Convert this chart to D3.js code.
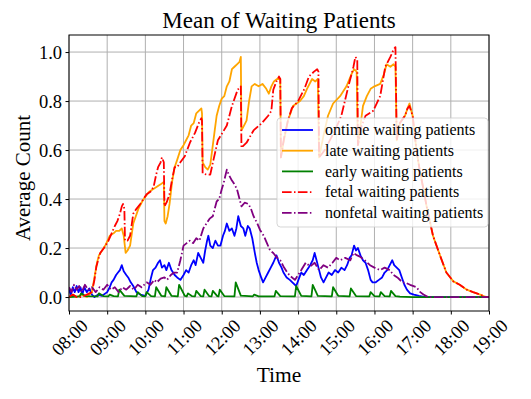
<!DOCTYPE html>
<html>
<head>
<meta charset="utf-8">
<script src="https://cdn.jsdelivr.net/npm/d3@7"></script>
<style>
body { margin: 0; background: #fff; }
text { font-family: "Liberation Serif", serif; fill: #000; }
</style>
</head>
<body>
<svg id="chart" width="531" height="399"></svg>
<script>
// mean waiting counts, [time, value]
var ontime = [["08:00",0.03],["08:03",0.01],["08:06",0.04],["08:09",0.02],["08:12",0.045],["08:15",0.02],["08:18",0.04],["08:21",0.01],["08:24",0.04],["08:28",0.02],["08:32",0.035],["08:36",0.01],["08:40",0.0],["08:46",0.01],["08:52",0.005],["09:00",0.02],["09:04",0.04],["09:07",0.06],["09:10",0.07],["09:14",0.09],["09:17",0.10],["09:20",0.11],["09:23",0.13],["09:26",0.105],["09:30",0.09],["09:33",0.08],["09:37",0.06],["09:41",0.045],["09:46",0.02],["09:52",0.01],["10:00",0.005],["10:05",0.03],["10:09",0.08],["10:12",0.11],["10:16",0.12],["10:20",0.14],["10:23",0.15],["10:26",0.12],["10:30",0.13],["10:33",0.11],["10:37",0.14],["10:41",0.11],["10:46",0.09],["10:50",0.08],["10:55",0.07],["11:00",0.09],["11:04",0.11],["11:08",0.10],["11:12",0.13],["11:16",0.15],["11:19",0.13],["11:23",0.18],["11:27",0.16],["11:31",0.14],["11:34",0.19],["11:37",0.23],["11:39",0.25],["11:42",0.21],["11:46",0.20],["11:50",0.23],["11:54",0.21],["11:58",0.21],["12:02",0.25],["12:05",0.27],["12:08",0.30],["12:12",0.27],["12:16",0.28],["12:20",0.25],["12:23",0.28],["12:26",0.33],["12:30",0.29],["12:34",0.28],["12:37",0.25],["12:41",0.29],["12:44",0.28],["12:48",0.24],["12:52",0.18],["12:55",0.14],["12:58",0.11],["13:02",0.08],["13:05",0.06],["13:09",0.08],["13:13",0.10],["13:17",0.12],["13:21",0.14],["13:26",0.17],["13:30",0.14],["13:34",0.12],["13:37",0.10],["13:42",0.08],["13:47",0.07],["13:51",0.06],["13:57",0.045],["14:02",0.08],["14:05",0.10],["14:09",0.09],["14:14",0.11],["14:19",0.13],["14:23",0.15],["14:26",0.18],["14:29",0.15],["14:32",0.12],["14:36",0.08],["14:40",0.06],["14:44",0.08],["14:48",0.10],["14:53",0.09],["14:58",0.11],["15:03",0.10],["15:08",0.12],["15:13",0.11],["15:17",0.13],["15:21",0.16],["15:24",0.17],["15:28",0.21],["15:31",0.19],["15:34",0.20],["15:38",0.17],["15:42",0.15],["15:46",0.14],["15:50",0.11],["15:54",0.07],["15:57",0.06],["16:02",0.06],["16:07",0.07],["16:12",0.08],["16:16",0.10],["16:20",0.11],["16:24",0.13],["16:28",0.15],["16:31",0.13],["16:35",0.12],["16:39",0.11],["16:43",0.08],["16:47",0.05],["16:51",0.03],["16:56",0.015],["17:02",0.01],["17:10",0.005],["17:20",0.0],["19:00",0.0]];

var late = [["08:00",0.00],["08:06",0.01],["08:12",0.00],["08:20",0.01],["08:28",0.00],["08:36",0.02],["08:40",0.08],["08:44",0.14],["08:47",0.17],["08:52",0.19],["08:57",0.21],["09:04",0.25],["09:10",0.26],["09:14",0.27],["09:19",0.27],["09:23",0.28],["09:26",0.25],["09:29",0.18],["09:32",0.19],["09:36",0.21],["09:41",0.30],["09:45",0.33],["09:49",0.36],["09:55",0.39],["10:00",0.41],["10:06",0.43],["10:12",0.44],["10:18",0.45],["10:24",0.46],["10:29",0.47],["10:30",0.31],["10:32",0.30],["10:35",0.33],["10:38",0.38],["10:42",0.47],["10:46",0.53],["10:50",0.56],["10:55",0.60],["11:00",0.62],["11:04",0.64],["11:08",0.66],["11:12",0.70],["11:16",0.71],["11:20",0.75],["11:24",0.76],["11:28",0.77],["11:29",0.75],["11:30",0.55],["11:34",0.53],["11:38",0.52],["11:42",0.54],["11:45",0.60],["11:49",0.68],["11:52",0.74],["11:56",0.78],["12:00",0.81],["12:04",0.82],["12:08",0.86],["12:12",0.88],["12:16",0.93],["12:20",0.94],["12:24",0.95],["12:28",0.96],["12:30",0.98],["12:31",0.68],["12:35",0.70],["12:39",0.72],["12:43",0.80],["12:47",0.86],["12:52",0.87],["12:58",0.86],["13:04",0.87],["13:10",0.85],["13:14",0.83],["13:18",0.86],["13:22",0.88],["13:27",0.89],["13:32",0.89],["13:33",0.57],["13:37",0.63],["13:44",0.72],["13:52",0.78],["14:03",0.80],["14:09",0.82],["14:14",0.85],["14:22",0.89],["14:27",0.88],["14:31",0.89],["14:33",0.57],["14:40",0.66],["14:47",0.74],["14:55",0.79],["15:06",0.82],["15:16",0.86],["15:24",0.91],["15:28",0.93],["15:32",0.92],["15:34",0.62],["15:38",0.70],["15:42",0.78],["15:48",0.82],["15:54",0.85],["16:00",0.86],["16:09",0.87],["16:15",0.91],["16:19",0.95],["16:25",0.94],["16:30",0.95],["16:33",0.94],["16:35",0.64],["16:40",0.71],["16:48",0.74],["16:52",0.77],["16:55",0.79],["17:00",0.74],["17:06",0.60],["17:11",0.52],["17:17",0.44],["17:22",0.37],["17:32",0.25],["17:43",0.17],["17:53",0.10],["18:04",0.064],["18:14",0.05],["18:25",0.03],["18:35",0.02],["18:46",0.01],["18:55",0.0],["19:00",0.0]];

var early = [["08:00",0.0],["08:17",0.003],["08:19",0.015],["08:26",0.004],["08:45",0.003],["08:47",0.015],["08:54",0.004],["09:02",0.003],["09:04",0.01],["09:10",0.004],["09:17",0.003],["09:19",0.03],["09:27",0.005],["09:46",0.003],["09:48",0.02],["09:55",0.004],["10:00",0.003],["10:02",0.02],["10:09",0.004],["10:15",0.003],["10:17",0.04],["10:25",0.005],["10:31",0.003],["10:33",0.04],["10:41",0.005],["10:51",0.003],["10:53",0.05],["11:02",0.005],["11:05",0.003],["11:07",0.015],["11:13",0.004],["11:18",0.003],["11:20",0.025],["11:27",0.004],["11:31",0.003],["11:33",0.03],["11:40",0.004],["11:44",0.003],["11:46",0.025],["11:53",0.004],["11:55",0.003],["11:57",0.03],["12:04",0.004],["12:20",0.003],["12:22",0.06],["12:30",0.006],["12:49",0.003],["12:51",0.01],["12:58",0.003],["13:23",0.003],["13:25",0.025],["13:32",0.004],["13:55",0.003],["13:57",0.045],["14:05",0.005],["14:21",0.003],["14:23",0.05],["14:31",0.005],["14:53",0.003],["14:55",0.04],["15:03",0.005],["15:21",0.003],["15:23",0.035],["15:31",0.004],["15:52",0.003],["15:54",0.02],["16:00",0.004],["16:08",0.003],["16:10",0.02],["16:16",0.004],["16:24",0.003],["16:26",0.025],["16:33",0.004],["16:40",0.002],["17:00",0.0],["19:00",0.0]];

var fetal = [["08:00",0.00],["08:06",0.01],["08:12",0.00],["08:20",0.00],["08:28",0.01],["08:36",0.02],["08:40",0.07],["08:43",0.125],["08:49",0.18],["08:55",0.20],["09:02",0.23],["09:07",0.26],["09:12",0.29],["09:16",0.31],["09:20",0.34],["09:23",0.37],["09:25",0.38],["09:27",0.36],["09:28",0.23],["09:32",0.23],["09:36",0.25],["09:41",0.34],["09:46",0.36],["09:52",0.38],["09:57",0.40],["10:02",0.42],["10:08",0.43],["10:13",0.45],["10:17",0.50],["10:20",0.53],["10:24",0.55],["10:26",0.57],["10:29",0.55],["10:30",0.37],["10:34",0.39],["10:38",0.42],["10:42",0.48],["10:46",0.53],["10:50",0.53],["10:55",0.55],["11:02",0.575],["11:10",0.63],["11:18",0.67],["11:24",0.71],["11:28",0.73],["11:29",0.72],["11:30",0.505],["11:36",0.50],["11:42",0.50],["11:47",0.56],["11:54",0.64],["12:01",0.67],["12:08",0.70],["12:16",0.78],["12:25",0.846],["12:30",0.86],["12:31",0.61],["12:39",0.63],["12:50",0.68],["13:03",0.71],["13:13",0.74],["13:18",0.76],["13:21",0.846],["13:26",0.88],["13:30",0.90],["13:32",0.89],["13:33",0.57],["13:38",0.65],["13:44",0.72],["13:50",0.77],["14:00",0.80],["14:10",0.85],["14:17",0.90],["14:25",0.92],["14:30",0.93],["14:32",0.92],["14:33",0.57],["14:42",0.60],["14:58",0.68],["15:08",0.74],["15:19",0.86],["15:27",0.94],["15:30",0.98],["15:33",0.97],["15:34",0.62],["15:40",0.70],["15:46",0.74],["15:58",0.76],["16:09",0.82],["16:17",0.94],["16:25",0.98],["16:30",1.01],["16:33",1.02],["16:35",0.64],["16:40",0.71],["16:48",0.74],["16:52",0.77],["16:55",0.78],["17:00",0.74],["17:06",0.60],["17:11",0.52],["17:17",0.44],["17:22",0.37],["17:32",0.25],["17:43",0.17],["17:53",0.10],["18:04",0.064],["18:14",0.05],["18:25",0.03],["18:35",0.02],["18:46",0.01],["18:55",0.0],["19:00",0.0]];

var nonfetal = [["08:00",0.04],["08:04",0.02],["08:08",0.05],["08:12",0.03],["08:16",0.045],["08:20",0.02],["08:25",0.05],["08:30",0.03],["08:36",0.04],["08:42",0.02],["08:48",0.04],["08:54",0.03],["09:00",0.05],["09:06",0.03],["09:12",0.04],["09:18",0.02],["09:24",0.04],["09:30",0.03],["09:36",0.045],["09:42",0.03],["09:48",0.05],["09:54",0.04],["10:02",0.06],["10:08",0.05],["10:14",0.07],["10:18",0.06],["10:24",0.075],["10:30",0.08],["10:34",0.07],["10:40",0.09],["10:45",0.10],["10:50",0.10],["10:55",0.15],["11:00",0.21],["11:05",0.22],["11:10",0.23],["11:15",0.22],["11:20",0.24],["11:25",0.23],["11:31",0.28],["11:36",0.30],["11:41",0.32],["11:46",0.33],["11:52",0.39],["11:56",0.40],["12:00",0.44],["12:03",0.465],["12:08",0.52],["12:11",0.50],["12:15",0.48],["12:20",0.46],["12:24",0.44],["12:28",0.40],["12:31",0.37],["12:36",0.385],["12:42",0.38],["12:46",0.36],["12:50",0.33],["12:56",0.30],["13:00",0.275],["13:06",0.25],["13:11",0.22],["13:16",0.19],["13:21",0.18],["13:27",0.16],["13:32",0.15],["13:37",0.125],["13:43",0.10],["13:48",0.085],["13:55",0.07],["14:00",0.09],["14:05",0.11],["14:12",0.14],["14:19",0.125],["14:26",0.14],["14:33",0.11],["14:40",0.13],["14:47",0.12],["14:54",0.14],["15:00",0.16],["15:06",0.15],["15:14",0.16],["15:22",0.15],["15:27",0.18],["15:33",0.17],["15:37",0.165],["15:45",0.15],["15:53",0.13],["16:00",0.12],["16:09",0.11],["16:16",0.12],["16:24",0.11],["16:30",0.09],["16:36",0.08],["16:44",0.06],["16:50",0.057],["16:56",0.05],["17:06",0.04],["17:12",0.02],["17:17",0.01],["17:24",0.0],["19:00",0.0]];

var hourTicks = ["08:00","09:00","10:00","11:00","12:00","13:00","14:00","15:00","16:00","17:00","18:00","19:00"];
var countTicks = [0, 0.2, 0.4, 0.6, 0.8, 1.0];
var seriesNames = ["ontime waiting patients", "late waiting patients", "early waiting patients",
                   "fetal waiting patients", "nonfetal waiting patients"];

var parseTime = d3.timeParse("%H:%M");

var svg = d3.select("#chart"),
    plotLeft = 69, plotRight = 489, plotTop = 35, plotBottom = 311;

var x = d3.scaleTime()
    .domain([parseTime("08:00"), parseTime("19:00")])
    .range([plotLeft, plotRight]);

var y = d3.scaleLinear()
    .domain([-0.057, 1.0696])
    .range([plotBottom, plotTop]);

var series = [
    {name: seriesNames[0], data: ontime,   color: "blue",   dash: null},
    {name: seriesNames[1], data: late,     color: "orange", dash: null},
    {name: seriesNames[2], data: early,    color: "green",  dash: null},
    {name: seriesNames[3], data: fetal,    color: "red",    dash: "9.6,2.4,1.5,2.4"},
    {name: seriesNames[4], data: nonfetal, color: "purple", dash: "9.6,2.4,1.5,2.4"}
];

svg.append("defs").append("clipPath")
    .attr("id", "plotclip")
  .append("rect")
    .attr("x", plotLeft).attr("y", plotTop)
    .attr("width", plotRight - plotLeft).attr("height", plotBottom - plotTop);

// grid
var grid = svg.append("g").attr("class", "grid");
grid.selectAll("line.v")
    .data(hourTicks)
    .enter().append("line")
    .attr("class", "v")
    .attr("x1", function(d) { return x(parseTime(d)); })
    .attr("x2", function(d) { return x(parseTime(d)); })
    .attr("y1", plotTop).attr("y2", plotBottom)
    .attr("stroke", "#b0b0b0").attr("stroke-width", 1);
grid.selectAll("line.h")
    .data(countTicks)
    .enter().append("line")
    .attr("class", "h")
    .attr("x1", plotLeft).attr("x2", plotRight)
    .attr("y1", function(d) { return y(d); })
    .attr("y2", function(d) { return y(d); })
    .attr("stroke", "#b0b0b0").attr("stroke-width", 1);

var line = d3.line()
    .x(function(d) { return x(parseTime(d[0])); })
    .y(function(d) { return y(d[1]); });

svg.append("g")
    .attr("clip-path", "url(#plotclip)")
    .selectAll("path")
    .data(series)
    .enter().append("path")
    .attr("d", function(d) { return line(d.data); })
    .attr("fill", "none")
    .attr("stroke", function(d) { return d.color; })
    .attr("stroke-width", 1.8)
    .attr("stroke-linejoin", "round")
    .attr("stroke-dasharray", function(d) { return d.dash; });

// frame
svg.append("rect")
    .attr("x", plotLeft).attr("y", plotTop)
    .attr("width", plotRight - plotLeft).attr("height", plotBottom - plotTop)
    .attr("fill", "none").attr("stroke", "#000").attr("stroke-width", 1);

var tickFont = 18.5;

var xAxis = svg.append("g")
    .attr("transform", "translate(0," + plotBottom + ")")
    .call(d3.axisBottom(x)
          .tickValues(hourTicks.map(parseTime))
          .tickFormat(d3.timeFormat("%H:%M"))
          .tickSize(3.5)
          .tickSizeOuter(0));
xAxis.select(".domain").remove();
xAxis.selectAll(".tick line").attr("stroke", "#000");
xAxis.selectAll(".tick text")
    .attr("font-family", "Liberation Serif, serif")
    .attr("font-size", tickFont)
    .attr("fill", "#000")
    .attr("y", 0)
    .attr("dy", "0.35em")
    .attr("text-anchor", "middle")
    .attr("transform", function() {
        var len = this.getComputedTextLength(),
            half = (len + tickFont * 0.68) * 0.7071 / 2;
        return "translate(0," + (7 + half) + ") rotate(-45)";
    });

var yAxis = svg.append("g")
    .attr("transform", "translate(" + plotLeft + ",0)")
    .call(d3.axisLeft(y)
          .tickValues(countTicks)
          .tickFormat(d3.format(".1f"))
          .tickSize(3.5)
          .tickSizeOuter(0));
yAxis.select(".domain").remove();
yAxis.selectAll(".tick line").attr("stroke", "#000");
yAxis.selectAll(".tick text")
    .attr("font-family", "Liberation Serif, serif")
    .attr("font-size", tickFont)
    .attr("fill", "#000")
    .attr("x", -7)
    .attr("dy", "0.34em");

svg.append("text")
    .attr("x", (plotLeft + plotRight) / 2)
    .attr("y", 28)
    .attr("text-anchor", "middle")
    .attr("font-size", 23)
    .text("Mean of Waiting Patients");

svg.append("text")
    .attr("x", (plotLeft + plotRight) / 2)
    .attr("y", 382)
    .attr("text-anchor", "middle")
    .attr("font-size", 21.5)
    .text("Time");

svg.append("text")
    .attr("transform", "translate(30,178) rotate(-90)")
    .attr("text-anchor", "middle")
    .attr("font-size", 21)
    .text("Average Count");

// legend
var legend = svg.append("g")
    .attr("transform", "translate(277,118)");

legend.append("rect")
    .attr("width", 211).attr("height", 109)
    .attr("rx", 3.5)
    .attr("fill", "#fff").attr("fill-opacity", 0.8)
    .attr("stroke", "#cccccc").attr("stroke-opacity", 0.8);

var entry = legend.selectAll("g.entry")
    .data(series)
    .enter().append("g")
    .attr("class", "entry")
    .attr("transform", function(d, i) { return "translate(0," + (12 + i * 20.7) + ")"; });

entry.append("line")
    .attr("x1", 5).attr("x2", 36)
    .attr("stroke", function(d) { return d.color; })
    .attr("stroke-width", 1.8)
    .attr("stroke-dasharray", function(d) { return d.dash; });

entry.append("text")
    .attr("x", 48)
    .attr("dy", "0.32em")
    .attr("font-size", 16)
    .text(function(d) { return d.name; });
</script>
</body>
</html>
